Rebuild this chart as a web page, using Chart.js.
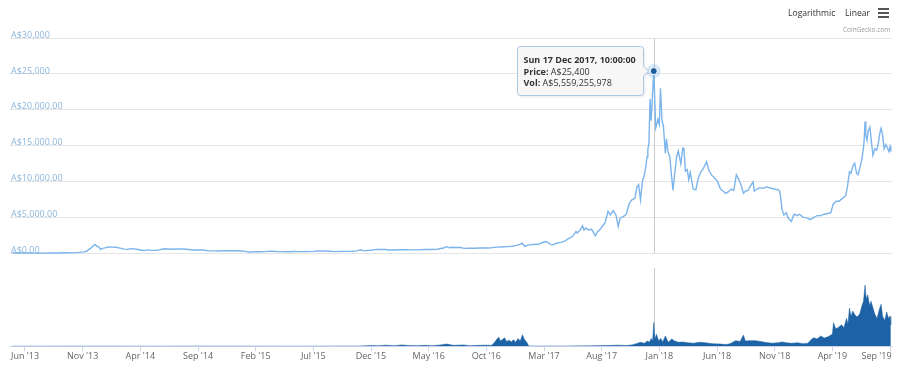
<!DOCTYPE html>
<html>
<head>
<meta charset="utf-8">
<script src="https://cdn.jsdelivr.net/npm/chart.js@4.4.0/dist/chart.umd.min.js"></script>
<style>
  body { margin: 0; background: #fff; font-family: "Open Sans", sans-serif; }
  #wrap { position: relative; width: 902px; height: 368px; }
  .btn { position: absolute; top: 7px; font-size: 8.6px; color: #333; }
  .bar { position: absolute; left: 878px; width: 11px; height: 2px; background: #555; }
  #src { position: absolute; left: 843px; top: 25px; font-size: 6.5px; color: #999; }
</style>
</head>
<body>
<div id="wrap">
  <canvas id="chart" width="902" height="368"></canvas>
  <div class="btn" style="left:788px">Logarithmic</div>
  <div class="btn" style="left:845px">Linear</div>
  <div class="bar" style="top:8px"></div>
  <div class="bar" style="top:12px"></div>
  <div class="bar" style="top:16px"></div>
  <div id="src">CoinGecko.com</div>
</div>
<script>
// price in A$
const priceDates = ['2013-04-28','2013-05-12','2013-05-28','2013-06-12','2013-06-28','2013-07-06','2013-07-20','2013-08-05','2013-08-25','2013-09-15','2013-10-05','2013-10-22','2013-11-05','2013-11-12','2013-11-18','2013-11-24','2013-11-30','2013-12-04','2013-12-09','2013-12-13','2013-12-18','2013-12-23','2013-12-30',
  '2014-01-08','2014-01-18','2014-01-28','2014-02-08','2014-02-18','2014-02-26','2014-03-05','2014-03-15','2014-03-25','2014-04-05','2014-04-11','2014-04-20','2014-05-01','2014-05-15','2014-05-28','2014-06-05','2014-06-20','2014-07-05','2014-07-20','2014-08-01','2014-08-18','2014-09-01','2014-09-15','2014-09-28','2014-10-10','2014-10-25','2014-11-10','2014-11-25','2014-12-10','2014-12-25',
  '2015-01-05','2015-01-14','2015-01-25','2015-02-10','2015-02-25','2015-03-10','2015-03-25','2015-04-10','2015-04-25','2015-05-10','2015-05-28','2015-06-15','2015-07-01','2015-07-12','2015-07-28','2015-08-15','2015-08-25','2015-09-10','2015-09-28','2015-10-10','2015-10-25','2015-11-04','2015-11-10','2015-11-20','2015-12-01','2015-12-15','2015-12-28',
  '2016-01-10','2016-01-16','2016-02-01','2016-02-15','2016-03-01','2016-03-15','2016-04-01','2016-04-20','2016-05-08','2016-05-22','2016-06-02','2016-06-10','2016-06-17','2016-06-23','2016-06-30','2016-07-10','2016-07-25','2016-08-03','2016-08-15','2016-09-01','2016-09-15','2016-10-01','2016-10-15','2016-10-28','2016-11-10','2016-11-25','2016-12-10','2016-12-22','2016-12-30',
  '2017-01-04','2017-01-08','2017-01-12','2017-01-20','2017-02-01','2017-02-15','2017-03-01','2017-03-05','2017-03-12','2017-03-18','2017-03-25','2017-04-05','2017-04-15','2017-04-25','2017-05-05','2017-05-15','2017-05-20','2017-05-25','2017-05-28','2017-06-05','2017-06-11','2017-06-15','2017-06-20','2017-06-27','2017-07-05','2017-07-15','2017-07-20','2017-07-28','2017-08-05','2017-08-10','2017-08-15','2017-08-18','2017-08-24','2017-09-01','2017-09-08','2017-09-14','2017-09-19','2017-09-28','2017-10-05','2017-10-13','2017-10-20','2017-10-28','2017-11-03','2017-11-07','2017-11-12','2017-11-17','2017-11-21','2017-11-26','2017-11-29','2017-12-01','2017-12-04','2017-12-07','2017-12-10','2017-12-13','2017-12-17','2017-12-20','2017-12-22','2017-12-25','2017-12-28',
  '2018-01-01','2018-01-04','2018-01-08','2018-01-12','2018-01-17','2018-01-20','2018-01-24','2018-01-29','2018-02-02','2018-02-06','2018-02-10','2018-02-15','2018-02-19','2018-02-25','2018-03-02','2018-03-05','2018-03-09','2018-03-14','2018-03-18','2018-03-22','2018-03-30','2018-04-06','2018-04-12','2018-04-20','2018-04-25','2018-05-04','2018-05-10','2018-05-18','2018-05-26','2018-06-02','2018-06-10','2018-06-17','2018-06-24','2018-06-30','2018-07-08','2018-07-15','2018-07-22','2018-07-28','2018-08-04','2018-08-10','2018-08-15','2018-08-22','2018-08-31','2018-09-05','2018-09-08','2018-09-15','2018-09-22','2018-10-01','2018-10-10','2018-10-20','2018-11-01','2018-11-10','2018-11-14','2018-11-17','2018-11-20','2018-11-25','2018-12-01','2018-12-07','2018-12-15','2018-12-20','2018-12-24','2018-12-30',
  '2019-01-06','2019-01-15','2019-01-25','2019-02-03','2019-02-10','2019-02-20','2019-03-01','2019-03-10','2019-03-20','2019-03-28','2019-04-03','2019-04-11','2019-04-18','2019-04-25','2019-04-29','2019-05-06','2019-05-11','2019-05-16','2019-05-20','2019-05-26','2019-05-30','2019-06-04','2019-06-08','2019-06-15','2019-06-18','2019-06-22','2019-06-24','2019-06-26','2019-06-28','2019-07-01','2019-07-04','2019-07-09','2019-07-13','2019-07-17','2019-07-22','2019-07-27','2019-08-01','2019-08-05','2019-08-08','2019-08-12','2019-08-16','2019-08-21','2019-08-25','2019-08-29','2019-09-01','2019-09-03'];
const priceValues = [135,115,125,105,95,75,95,105,120,135,130,190,260,380,650,850,1200,1270,1000,1000,600,760,820,
  950,930,900,780,650,620,720,690,600,500,440,540,480,480,640,700,640,670,660,630,520,520,520,410,400,390,420,430,430,390,
  330,220,300,280,300,370,320,300,290,310,300,300,340,390,400,350,300,330,330,350,400,550,440,450,500,610,600,
  620,530,520,560,570,540,550,590,600,610,730,800,1000,830,900,880,870,750,770,770,810,800,840,920,950,1000,1050,1200,1320,
  1500,1200,1030,1200,1290,1320,1640,1700,1580,1300,1250,1500,1580,1750,2100,2400,2700,3100,2900,3300,3900,3300,3600,3300,3400,2500,3000,3400,4000,4300,5300,5900,5400,6000,5400,3800,4950,5200,5500,7000,7500,7700,9300,9600,7500,10200,10700,12200,13500,14500,15400,21500,18500,21500,25400,21000,17500,18000,18700,
  18000,23000,18600,17700,14000,16000,14200,13500,11200,8800,11000,13500,14300,12500,14700,14600,11500,11700,10300,11300,9000,8900,10500,11500,11800,12800,11600,10900,10500,10100,9000,8700,8400,8600,9000,8800,11000,10400,9500,8400,8700,8800,9600,10000,8700,9000,9200,9100,9300,9150,9000,8900,8700,7600,6200,5400,5700,4900,4500,5300,5500,5300,
  5500,5100,5000,4750,5000,5300,5300,5500,5600,5700,6900,7300,7300,7600,7800,8100,9500,11400,11200,12300,12600,11200,11000,12500,13200,14800,16000,18400,16500,15800,17000,17600,15500,13700,14600,14400,15500,16900,17450,16500,14600,15200,14700,14200,14900,14200];

// 24h volume in billions of A$
const volDates = ['2013-04-28','2013-12-01','2014-06-01','2014-08-20','2015-06-01','2015-11-01','2015-12-01','2015-12-20','2016-01-10','2016-02-01','2016-02-20','2016-03-10','2016-04-01','2016-04-20','2016-05-10','2016-06-01','2016-06-18','2016-07-05','2016-08-01','2016-08-20','2016-09-10','2016-10-01','2016-10-15','2016-10-22','2016-10-28','2016-11-03','2016-11-08','2016-11-14','2016-11-18','2016-11-24','2016-12-01','2016-12-06','2016-12-12','2016-12-18','2016-12-24','2016-12-30',
  '2017-01-05','2017-01-10','2017-01-16','2017-01-22','2017-03-01','2017-05-01','2017-07-01','2017-08-15','2017-09-15','2017-10-05','2017-10-20','2017-11-01','2017-11-12','2017-11-22','2017-11-30','2017-12-05','2017-12-10','2017-12-14','2017-12-17','2017-12-20','2017-12-24','2017-12-30',
  '2018-01-05','2018-01-10','2018-01-17','2018-01-25','2018-02-03','2018-02-10','2018-02-20','2018-03-01','2018-03-15','2018-04-01','2018-04-15','2018-05-01','2018-05-20','2018-06-10','2018-06-25','2018-07-05','2018-07-20','2018-08-01','2018-08-10','2018-08-15','2018-08-25','2018-09-10','2018-09-25','2018-10-05','2018-10-15','2018-10-25','2018-11-10','2018-11-20','2018-12-01','2018-12-15',
  '2019-01-01','2019-01-15','2019-01-28','2019-02-05','2019-02-12','2019-02-20','2019-03-01','2019-03-10','2019-03-20','2019-04-01','2019-04-04','2019-04-10','2019-04-18','2019-04-25','2019-05-01','2019-05-08','2019-05-12','2019-05-16','2019-05-20','2019-05-25','2019-05-30','2019-06-05','2019-06-12','2019-06-18','2019-06-22','2019-06-26','2019-06-29','2019-07-03','2019-07-08','2019-07-12','2019-07-17','2019-07-22','2019-07-28','2019-08-03','2019-08-08','2019-08-12','2019-08-18','2019-08-23','2019-08-28','2019-09-01','2019-09-03'];
const volValues = [0.01,0.02,0.01,0.03,0.01,0.05,0.15,0.1,0.25,0.1,0.3,0.15,0.1,0.2,0.1,0.3,0.5,0.2,0.3,0.1,0.2,0.25,0.2,0.8,1.5,2.1,1.2,1.6,2.0,1.1,1.4,1.0,1.5,0.9,1.8,1.2,
  2.7,1.6,1.0,0.05,0.03,0.05,0.08,0.15,0.25,0.15,0.3,0.6,0.9,0.7,1.2,0.9,1.8,1.2,5.56,1.6,2.8,1.3,
  1.8,1.0,2.4,0.9,1.7,1.2,0.9,1.0,0.8,0.7,0.9,0.8,0.6,0.5,0.4,0.6,1.3,1.1,2.6,1.2,1.3,1.3,1.1,0.9,0.8,0.7,0.8,1.0,0.8,0.7,
  0.8,0.6,0.7,1.5,2.0,1.7,2.4,1.9,2.2,2.8,5.5,4.0,4.5,5.0,4.3,6.5,5.2,8.9,7.0,8.2,7.4,6.8,7.5,9.5,10.5,14.3,11.0,12.0,9.5,10.5,9.0,7.5,6.5,8.5,9.8,7.0,6.0,8.0,6.5,7.0,5.0];

const xTickMonths = [5,10,15,20,25,30,35,40,45,50,55,60,65,70,75,80];
const xTickLabels = ["Jun '13","Nov '13","Apr '14","Sep '14","Feb '15","Jul '15","Dec '15","May '16","Oct '16","Mar '17","Aug '17","Jan '18","Jun '18","Nov '18","Apr '19","Sep '19"];
const yTickValues = [0,5000,10000,15000,20000,25000,30000];
const yTickLabels = ['A$0.00','A$5,000.00','A$10,000.00','A$15,000.00','A$20,000.00','A$25,000','A$30,000'];

const tipTitle = 'Sun 17 Dec 2017, 10:00:00';
const tipPrice = 'A$25,400';
const tipVol = 'A$5,559,255,978';

// months since Jan 2013, used as the x value
function monthIndex(s) {
  const [y, m, d] = s.split('-').map(Number);
  const dim = new Date(y, m, 0).getDate();
  return (y - 2013) * 12 + (m - 1) + (d - 1) / dim;
}

const pricePts = priceDates.map((d, i) => ({ x: monthIndex(d), y: priceValues[i] }));
const volPts = volDates.map((d, i) => ({ x: monthIndex(d), y: volValues[i] }));
const peakIdx = priceValues.indexOf(Math.max(...priceValues));

Chart.defaults.font.family = '"Open Sans", sans-serif';

const peakTip = {
  id: 'peakTip',
  beforeDatasetsDraw(chart) {
    const { ctx, chartArea, scales } = chart;
    const px = Math.round(scales.x.getPixelForValue(pricePts[peakIdx].x)) + 0.5;
    const y0 = scales.y.getPixelForValue(0);
    ctx.save();
    ctx.strokeStyle = '#cccccc';
    ctx.lineWidth = 1;
    ctx.beginPath();
    ctx.moveTo(px, chartArea.top);
    ctx.lineTo(px, y0);
    ctx.moveTo(px, y0 + 14);
    ctx.lineTo(px, chartArea.bottom);
    ctx.stroke();
    ctx.restore();
  },
  afterDraw(chart) {
    const { ctx, scales } = chart;
    const px = scales.x.getPixelForValue(pricePts[peakIdx].x);
    const py = scales.y.getPixelForValue(pricePts[peakIdx].y);
    ctx.save();
    // halo + marker
    ctx.fillStyle = 'rgba(124,181,236,0.3)';
    ctx.beginPath(); ctx.arc(px, py, 7, 0, Math.PI * 2); ctx.fill();
    ctx.fillStyle = '#1d5b99';
    ctx.strokeStyle = '#ffffff';
    ctx.lineWidth = 1;
    ctx.beginPath(); ctx.arc(px, py, 3.5, 0, Math.PI * 2); ctx.fill(); ctx.stroke();

    // tooltip box
    const bw = 126, bh = 49;
    const bx = Math.round(px - 137) + 0.5, by = Math.round(py - 25) + 0.5;
    const r = 3;
    ctx.shadowColor = 'rgba(0,0,0,0.12)';
    ctx.shadowOffsetX = 1; ctx.shadowOffsetY = 1; ctx.shadowBlur = 3;
    ctx.beginPath();
    ctx.moveTo(bx + r, by);
    ctx.lineTo(bx + bw - r, by);
    ctx.quadraticCurveTo(bx + bw, by, bx + bw, by + r);
    ctx.lineTo(bx + bw, py - 5);
    ctx.lineTo(bx + bw + 5, py);
    ctx.lineTo(bx + bw, py + 5);
    ctx.lineTo(bx + bw, by + bh - r);
    ctx.quadraticCurveTo(bx + bw, by + bh, bx + bw - r, by + bh);
    ctx.lineTo(bx + r, by + bh);
    ctx.quadraticCurveTo(bx, by + bh, bx, by + bh - r);
    ctx.lineTo(bx, by + r);
    ctx.quadraticCurveTo(bx, by, bx + r, by);
    ctx.closePath();
    ctx.fillStyle = 'rgba(248,248,248,0.92)';
    ctx.fill();
    ctx.shadowColor = 'transparent';
    ctx.strokeStyle = '#a8c8e6';
    ctx.stroke();

    ctx.fillStyle = '#333';
    ctx.textBaseline = 'middle';
    const tx = bx + 6;
    ctx.font = 'bold 9px "Open Sans", sans-serif';
    ctx.fillText(tipTitle, tx, by + 13.5);
    ctx.fillText('Price:', tx, by + 25.5);
    let w = ctx.measureText('Price:').width;
    ctx.font = '9px "Open Sans", sans-serif';
    ctx.fillText(' ' + tipPrice, tx + w, by + 25.5);
    ctx.font = 'bold 9px "Open Sans", sans-serif';
    ctx.fillText('Vol:', tx, by + 36.5);
    w = ctx.measureText('Vol:').width;
    ctx.font = '9px "Open Sans", sans-serif';
    ctx.fillText(' ' + tipVol, tx + w, by + 36.5);
    ctx.restore();
  }
};

new Chart(document.getElementById('chart'), {
  type: 'line',
  data: {
    datasets: [
      { label: 'Price', data: pricePts, yAxisID: 'y', borderColor: '#7cb5ec', borderWidth: 1.4,
        pointRadius: 0, tension: 0, fill: false },
      { label: 'Volume', data: volPts, yAxisID: 'y2', borderColor: '#1c62a4', borderWidth: 0.5,
        backgroundColor: '#1c62a4', pointRadius: 0, tension: 0, fill: 'origin' }
    ]
  },
  options: {
    responsive: false,
    animation: false,
    devicePixelRatio: 1,
    layout: { padding: { left: 8, right: 10, top: 38, bottom: 6 } },
    plugins: { legend: { display: false }, tooltip: { enabled: false } },
    scales: {
      x: {
        type: 'linear', min: 3.70, max: 80.17,
        afterBuildTicks: s => { s.ticks = xTickMonths.map(v => ({ value: v })); },
        // last label is pulled inside the canvas like the original, keep the plot width
        afterFit: s => { s.paddingRight = 0; },
        grid: { drawOnChartArea: false, drawTicks: true, tickLength: 5, color: '#ccd6eb' },
        border: { color: '#ccd6eb' },
        ticks: { autoSkip: false, maxRotation: 0, padding: 0, color: '#666', font: { size: 9 },
          callback: (v) => {
            const i = xTickMonths.indexOf(v);
            return i === xTickMonths.length - 1 ? xTickLabels[i] + '\u2003\u2003\u2003' : xTickLabels[i];
          } }
      },
      y: {
        min: -12847, max: 30000,
        afterBuildTicks: s => { s.ticks = yTickValues.map(v => ({ value: v })); },
        grid: { color: '#e6e6e6', drawTicks: false },
        border: { display: false },
        ticks: { mirror: true, padding: 1, labelOffset: -3, color: '#8db6dc', font: { size: 9 },
          callback: v => yTickLabels[yTickValues.indexOf(v)] }
      },
      y2: { display: false, min: 0, max: 72 }
    }
  },
  plugins: [peakTip]
});
</script>
</body>
</html>
